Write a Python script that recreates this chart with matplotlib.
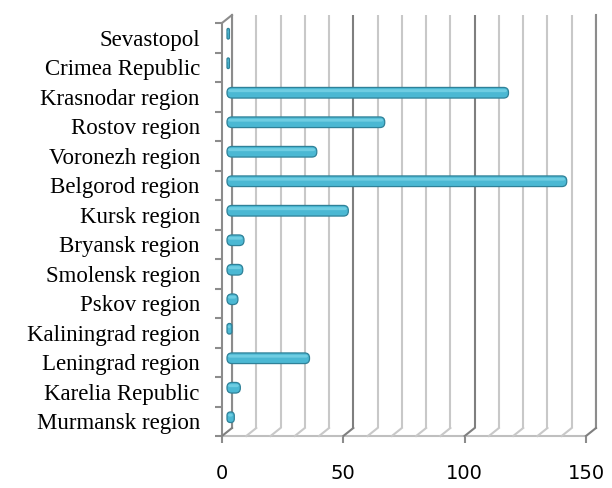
import matplotlib.pyplot as plt
from matplotlib.ticker import MultipleLocator
from matplotlib.patches import FancyBboxPatch
from matplotlib.lines import Line2D

# Данные (снизу вверх, как на графике)
regions = ["Murmansk region", "Karelia Republic", "Leningrad region", "Kaliningrad region",
           "Pskov region", "Smolensk region", "Bryansk region", "Kursk region",
           "Belgorod region", "Voronezh region", "Rostov region", "Krasnodar region",
           "Crimea Republic", "Sevastopol"]
values = [3, 5.5, 34, 2, 4.5, 6.5, 7, 50, 140, 37, 65, 116, 1, 1]
x_ticks = [0, 50, 100, 150]

W, H = 612, 488
fig = plt.figure(figsize=(W / 100, H / 100), dpi=100)
n = len(regions)

# передняя плоскость (пиксели) и сдвиг в глубину
L, R, T, B = 222, 586, 23, 436
dx, dy = 10, 8


def make_ax(sx, sy):
    a = fig.add_axes([(L + sx) / W, 1 - (B - sy) / H, (R - L) / W, (B - T) / H])
    a.set_xlim(0, 150)
    a.set_ylim(-0.5, n - 0.5)
    a.patch.set_visible(False)
    for s in a.spines.values():
        s.set_visible(False)
    return a


# задняя стенка: сетка
axb = make_ax(dx, dy)
axb.set_xticks(x_ticks)
axb.xaxis.set_minor_locator(MultipleLocator(10))
axb.grid(axis="x", which="minor", color="#C8C8C8", linewidth=1.5)
axb.grid(axis="x", which="major", color="#7F7F7F", linewidth=1.5)
axb.tick_params(axis="both", which="both", length=0, labelbottom=False, labelleft=False)
axb.set_yticks([])
axb.spines["left"].set_visible(True)
axb.spines["left"].set_color("#8C8C8C")
axb.spines["left"].set_linewidth(1.5)
axb.spines["right"].set_visible(True)
axb.spines["right"].set_color("#8C8C8C")
axb.spines["right"].set_linewidth(1.5)

# средняя плоскость: цилиндры
axm = make_ax(dx / 2, dy / 2)
axm.set_xticks([])
axm.set_yticks([])
px_x = (R - L) / 150
px_y = (B - T) / n
aspect = px_x / px_y
h = 0.36
for i, v in enumerate(values):
    r = min(2.0, v / 2)
    bar = FancyBboxPatch((0, i - h / 2), v, h,
                         boxstyle=f"round,pad=0,rounding_size={r}",
                         mutation_aspect=aspect,
                         facecolor="#4BB8D3", edgecolor="#2F8198",
                         linewidth=0.9, zorder=3, clip_on=False)
    axm.add_patch(bar)
    hl = FancyBboxPatch((0.3, i + 0.02), max(v - 0.8, 0.1), h * 0.28,
                        boxstyle=f"round,pad=0,rounding_size={min(1.0, v / 3)}",
                        mutation_aspect=aspect,
                        facecolor="#6FCDE2", linewidth=0, zorder=4, clip_on=False)
    axm.add_patch(hl)

# передняя плоскость: оси с подписями
axf = make_ax(0, 0)
axf.spines["left"].set_visible(True)
axf.spines["left"].set_color("#8C8C8C")
axf.spines["left"].set_linewidth(1.5)
axf.spines["bottom"].set_visible(True)
axf.spines["bottom"].set_color("#BFBFBF")
axf.spines["bottom"].set_linewidth(1.5)
axf.set_yticks(list(range(n)))
axf.set_yticklabels(regions, fontsize=16.5, family="Liberation Serif")
axf.set_yticks([p - 0.5 for p in range(n + 1)], minor=True)
axf.tick_params(axis="y", which="minor", length=5, width=1.5, color="#8C8C8C")
axf.tick_params(axis="y", which="major", length=0, pad=16)
axf.set_xticks(x_ticks)
axf.set_xticklabels([str(t) for t in x_ticks], fontsize=14, family="DejaVu Sans")
axf.tick_params(axis="x", length=5, width=1.5, color="#8C8C8C", pad=15)

# наклонные линии пола от стенки к передней кромке
for k in range(0, 151, 10):
    x0 = L + k * px_x
    col = "#7F7F7F" if k % 50 == 0 else "#C8C8C8"
    fig.lines.append(Line2D([(x0 + dx) / W, x0 / W], [1 - (B - dy) / H, 1 - B / H],
                           transform=fig.transFigure, color=col, linewidth=1.5))
# верхний левый угол
fig.lines.append(Line2D([(L + dx) / W, L / W], [1 - (T - dy) / H, 1 - T / H],
                       transform=fig.transFigure, color="#8C8C8C", linewidth=1.5))

fig.savefig("out.png", dpi=100)
